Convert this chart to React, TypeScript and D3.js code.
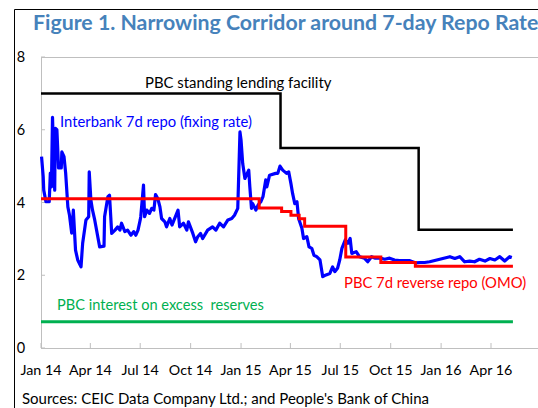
import React from "react";
import * as d3 from "d3";

const W = 538;
const H = 408;

const titleText = "Figure 1. Narrowing Corridor around 7-day Repo Rate";
const sourceText = "Sources: CEIC Data Company Ltd.; and People's Bank of China";

const xTickDates = ["2014-01-01", "2014-04-01", "2014-07-01", "2014-10-01", "2015-01-01", "2015-04-01", "2015-07-01", "2015-10-01", "2016-01-01", "2016-04-01"];
const xTickLabels = ["Jan 14", "Apr 14", "Jul 14", "Oct 14", "Jan 15", "Apr 15", "Jul 15", "Oct 15", "Jan 16", "Apr 16"];
const yTicks = [0, 2, 4, 6, 8];

const repoDates = [
  "2014-01-02", "2014-01-05", "2014-01-06", "2014-01-10", "2014-01-16", "2014-01-18", "2014-01-20", "2014-01-22", "2014-01-26", "2014-01-27",
  "2014-01-30", "2014-02-02", "2014-02-07", "2014-02-08", "2014-02-12", "2014-02-15", "2014-02-19", "2014-02-22", "2014-02-26", "2014-03-01",
  "2014-03-05", "2014-03-09", "2014-03-15", "2014-03-18", "2014-03-24", "2014-03-29", "2014-03-30", "2014-04-02", "2014-04-05", "2014-04-09",
  "2014-04-18", "2014-04-26", "2014-04-27", "2014-05-03", "2014-05-06", "2014-05-10", "2014-05-16", "2014-05-21", "2014-05-25", "2014-05-28",
  "2014-06-03", "2014-06-08", "2014-06-14", "2014-06-19", "2014-06-23", "2014-06-27", "2014-07-01", "2014-07-02", "2014-07-07", "2014-07-09",
  "2014-07-13", "2014-07-18", "2014-07-22", "2014-07-26", "2014-07-29", "2014-08-02", "2014-08-06", "2014-08-09", "2014-08-15", "2014-08-18",
  "2014-08-24", "2014-08-28", "2014-09-08", "2014-09-11", "2014-09-18", "2014-09-24", "2014-09-27", "2014-10-05", "2014-10-10", "2014-10-14",
  "2014-10-19", "2014-10-23", "2014-11-01", "2014-11-10", "2014-11-16", "2014-11-23", "2014-11-30", "2014-12-08", "2014-12-15", "2014-12-20",
  "2014-12-26", "2014-12-30", "2015-01-01", "2015-01-04", "2015-01-08", "2015-01-15", "2015-01-17", "2015-01-20", "2015-01-22", "2015-01-28",
  "2015-02-01", "2015-02-06", "2015-02-10", "2015-02-15", "2015-02-17", "2015-02-22", "2015-03-05", "2015-03-09", "2015-03-13", "2015-03-18",
  "2015-03-25", "2015-03-29", "2015-04-02", "2015-04-05", "2015-04-09", "2015-04-13", "2015-04-16", "2015-04-22", "2015-04-25", "2015-05-01",
  "2015-05-05", "2015-05-10", "2015-05-14", "2015-05-19", "2015-05-25", "2015-05-30", "2015-06-05", "2015-06-12", "2015-06-17", "2015-06-21",
  "2015-06-26", "2015-06-30", "2015-07-04", "2015-07-10", "2015-07-15", "2015-07-19", "2015-07-22", "2015-07-30", "2015-08-05", "2015-08-14",
  "2015-08-20", "2015-08-27", "2015-09-03", "2015-09-12", "2015-09-20", "2015-09-29", "2015-10-08", "2015-10-17", "2015-10-27", "2015-11-05",
  "2015-11-16", "2015-11-23", "2015-12-02", "2015-12-11", "2015-12-24", "2016-01-04", "2016-01-17", "2016-01-26", "2016-02-04", "2016-02-13",
  "2016-02-22", "2016-03-02", "2016-03-11", "2016-03-21", "2016-03-30", "2016-04-08", "2016-04-17", "2016-04-26", "2016-05-05", "2016-05-09",
];
const repoValues = [
  5.26, 4.71, 4.34, 4.02, 4.02, 4.81, 4.43, 6.34, 4.34, 6.04,
  6.0, 4.95, 4.95, 5.39, 5.26, 4.81, 3.88, 3.65, 3.16, 3.79,
  2.69, 2.42, 2.23, 2.88, 3.52, 3.61, 4.84, 4.07, 3.79, 3.52,
  2.78, 2.8, 3.61, 4.16, 4.2, 3.15, 3.24, 3.33, 3.24, 3.43,
  3.2, 3.24, 3.1, 3.2, 3.1, 3.24, 3.52, 3.61, 4.48, 3.61,
  3.79, 3.7, 3.84, 3.79, 4.22, 4.11, 3.88, 3.56, 3.47, 3.33,
  3.56, 3.38, 3.79, 3.33, 3.43, 3.24, 3.47, 3.15, 2.92, 3.06,
  3.15, 3.01, 3.24, 3.33, 3.24, 3.43, 3.33, 3.52, 3.56, 3.65,
  3.84, 5.94, 5.71, 5.07, 4.66, 4.89, 4.43, 3.84, 3.97, 3.79,
  3.93, 4.02, 4.16, 4.62, 4.43, 4.75, 4.8, 4.8, 5.0, 4.89,
  4.8, 4.84, 4.52, 4.25, 3.97, 4.02, 3.56, 3.29, 3.01, 3.06,
  2.78, 2.74, 2.55, 2.51, 2.42, 1.96, 2.01, 2.05, 2.23, 2.1,
  2.19, 2.42, 2.74, 2.97, 2.88, 3.01, 2.6, 2.65, 2.51, 2.47,
  2.37, 2.51, 2.47, 2.47, 2.44, 2.47, 2.42, 2.4, 2.4, 2.4,
  2.34, 2.35, 2.35, 2.37, 2.42, 2.46, 2.51, 2.46, 2.51, 2.37,
  2.39, 2.37, 2.44, 2.39, 2.46, 2.42, 2.51, 2.39, 2.51, 2.49,
];

const omoDates = ["2014-01-01", "2015-02-03", "2015-03-16", "2015-04-02", "2015-04-17", "2015-04-27", "2015-07-11", "2015-09-13", "2015-11-15", "2016-05-11"];
const omoValues = [4.1, 3.85, 3.75, 3.65, 3.55, 3.35, 2.5, 2.35, 2.25, 2.25];

const slfDates = ["2014-01-01", "2015-03-14", "2015-11-21", "2016-05-11"];
const slfValues = [7.0, 5.5, 3.25, 3.25];

const ioerDates = ["2014-01-01", "2016-05-11"];
const ioerValues = [0.72, 0.72];

const parse = d3.utcParse("%Y-%m-%d");
const FONT = "Lato, 'Open Sans', sans-serif";

export default function App() {
  const left = 41, top = 57, bottom = 348;
  const x = d3.scaleUtc().domain([parse("2014-01-01")!, parse("2016-04-01")!]).range([41, 491]);
  const y = d3.scaleLinear().domain([0, 8]).range([bottom, top]);

  const toPts = (ds: string[], vs: number[]) => ds.map((d, i) => [parse(d)!, vs[i]] as [Date, number]);
  const line = d3.line<[Date, number]>().x((d) => x(d[0])).y((d) => y(d[1]));
  const step = d3.line<[Date, number]>().x((d) => x(d[0])).y((d) => y(d[1])).curve(d3.curveStepAfter);

  const grey = "#bfbfbf";

  return (
    <svg width={W} height={H} style={{ position: "absolute", left: 0, top: 0, background: "#fff" }} fontFamily={FONT}>
      <rect x={0} y={0} width={W} height={H} fill="#fff" />
      {/* outer frame */}
      <line x1={14.5} y1={9.5} x2={W + 5} y2={9.5} stroke="#000" strokeWidth={1} />
      <line x1={14.5} y1={9.5} x2={14.5} y2={H + 5} stroke="#000" strokeWidth={1} />
      <text x={33} y={29.5} fontSize={21.3} fontWeight={700} fill="#4682bb">{titleText}</text>

      {/* plot frame */}
      <rect x={left + 0.5} y={top + 0.5} width={W + 20} height={bottom - top} fill="none" stroke={grey} strokeWidth={1} />
      {yTicks.map((t) => (
        <g key={t}>
          <line x1={left} x2={left + 4} y1={y(t)} y2={y(t)} stroke={grey} />
          <text x={21} y={y(t) + 5} fontSize={14.5} textAnchor="middle" fill="#000">{t}</text>
        </g>
      ))}
      {xTickDates.map((d, i) => (
        <g key={d}>
          <line x1={x(parse(d)!)} x2={x(parse(d)!)} y1={bottom} y2={bottom - 5} stroke={grey} />
          <text x={x(parse(d)!)} y={375} fontSize={14.3} textAnchor="middle" fill="#000">{xTickLabels[i]}</text>
        </g>
      ))}

      <path d={step(toPts(ioerDates, ioerValues))!} fill="none" stroke="#00b050" strokeWidth={3} />
      <path d={step(toPts(slfDates, slfValues))!} fill="none" stroke="#000" strokeWidth={2.5} />
      <path d={line(toPts(repoDates, repoValues))!} fill="none" stroke="#0000ff" strokeWidth={3.2} strokeLinejoin="round" />
      <path d={step(toPts(omoDates, omoValues))!} fill="none" stroke="#ff0000" strokeWidth={3} />

      <text x={145} y={87.5} fontSize={14.9} fill="#000">PBC standing lending facility</text>
      <text x={60} y={127} fontSize={14.8} fill="#0000ff">Interbank 7d repo (fixing rate)</text>
      <text x={344} y={287.5} fontSize={14.8} fill="#ff0000">PBC 7d reverse repo (OMO)</text>
      <text x={57} y={310} fontSize={14.6} fill="#00b050" style={{ whiteSpace: "pre" }}>PBC interest on excess  reserves</text>

      <text x={22} y={404} fontSize={15} fill="#000">{sourceText}</text>
    </svg>
  );
}
